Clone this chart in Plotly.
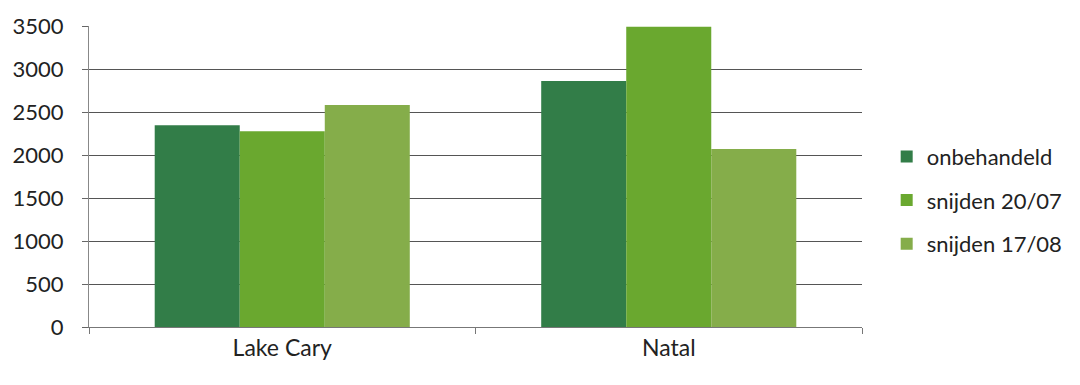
import plotly.graph_objects as go

categories = ["Lake Cary", "Natal"]
series_names = ["onbehandeld", "snijden 20/07", "snijden 17/08"]
onbehandeld = [2345, 2860]
snijden_2007 = [2275, 3490]
snijden_1708 = [2580, 2070]
y_ticks = [0, 500, 1000, 1500, 2000, 2500, 3000, 3500]

colors = ["#327d48", "#6aa82f", "#85ad4a"]
values = [onbehandeld, snijden_2007, snijden_1708]

fig = go.Figure()
for i, (name, vals) in enumerate(zip(series_names, values)):
    fig.add_trace(go.Bar(
        x=categories, y=vals, name=name,
        marker=dict(color=colors[i], line=dict(width=0)),
        legendgroup=f"g{i}",
    ))

font_family = "Lato, 'Open Sans', sans-serif"
fig.update_layout(
    width=1080, height=385,
    margin=dict(l=89, r=218, t=22, b=58),
    paper_bgcolor="white", plot_bgcolor="white",
    barmode="group", bargap=0.34, bargroupgap=0,
    font=dict(family=font_family, size=22, color="#222222"),
    showlegend=True,
    legend=dict(
        xref="container", yref="container",
        x=0.821, y=0.48, xanchor="left", yanchor="middle",
        font=dict(size=22, color="#222222"),
        tracegroupgap=12, itemwidth=30,
        bgcolor="rgba(0,0,0,0)",
    ),
)
fig.update_yaxes(
    range=[0, 3500], tickvals=y_ticks,
    showgrid=True, gridcolor="#555555", gridwidth=1,
    showline=True, linecolor="#888888", linewidth=1,
    ticks="outside", ticklen=6, tickcolor="#666666",
    ticklabelstandoff=14, zeroline=False,
)
fig.update_xaxes(
    showline=True, linecolor="#777777", linewidth=1,
    ticks="outside", ticklen=6, tickcolor="#777777",
    tickson="boundaries", ticklabelstandoff=0,
    tickfont=dict(size=23),
)

fig.write_html("out.html")
